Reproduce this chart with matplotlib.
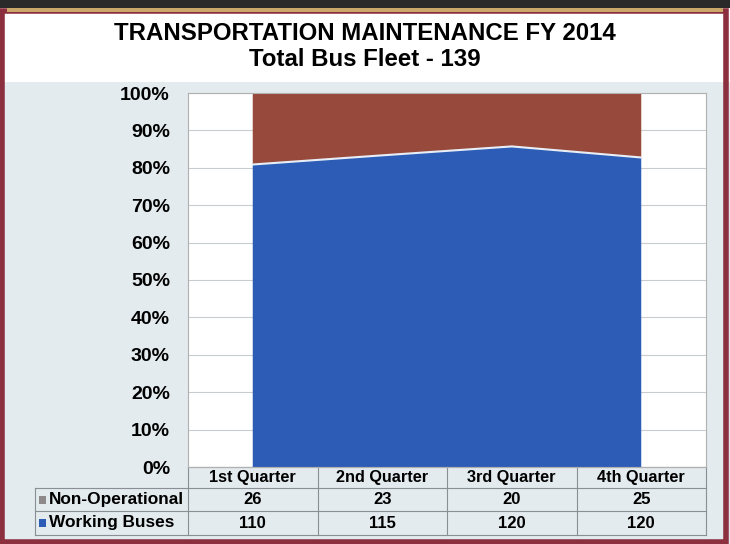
import numpy as np
import matplotlib.pyplot as plt
from matplotlib.patches import Rectangle
from matplotlib.transforms import blended_transform_factory

plt.rcParams['font.family'] = ['Liberation Sans', 'DejaVu Sans']

quarters = ["1st Quarter", "2nd Quarter", "3rd Quarter", "4th Quarter"]
non_operational = [26, 23, 20, 25]
working_buses = [110, 115, 120, 120]
row_names = ["Non-Operational", "Working Buses"]

blue = "#2d5cb6"
rust = "#974a3c"
key_colors = ["#8e8a8c", blue]

# percentages for the 100% stacked area
work = np.array(working_buses, dtype=float)
nonop = np.array(non_operational, dtype=float)
total = work + nonop
work_pct = work / total * 100
nonop_pct = nonop / total * 100

W, H = 730, 544
fig = plt.figure(figsize=(W / 100, H / 100), dpi=100)
fig.patch.set_facecolor("#e3ebee")

# white title band and photo-like frame
fig.add_artist(Rectangle((0, 1 - 82 / H), 1, 82 / H, transform=fig.transFigure,
                         facecolor="white", edgecolor="none", zorder=0))
fig.add_artist(Rectangle((0.003, 0.004), 0.992, 0.975, transform=fig.transFigure,
                         facecolor="none", edgecolor="#8c3040", linewidth=4, zorder=5))
fig.add_artist(Rectangle((0.01, 1 - 12 / H), 0.98, 4 / H, transform=fig.transFigure,
                         facecolor="#c9a86a", edgecolor="none", zorder=6))
fig.add_artist(Rectangle((0, 1 - 8 / H), 1, 8 / H, transform=fig.transFigure,
                         facecolor="#2a2a2a", edgecolor="none", zorder=6))

ax = fig.add_axes([188 / W, 1 - 467 / H, 518 / W, 374 / H])
ax.set_facecolor("white")

x = np.arange(len(quarters))
ax.stackplot(x, work_pct, nonop_pct, colors=[blue, rust], zorder=2)
ax.plot(x, work_pct, color="#e8eef5", linewidth=1.5, zorder=3)

ax.set_xlim(-0.5, len(quarters) - 0.5)
ax.set_ylim(0, 100)
ax.set_yticks(np.arange(0, 101, 10))
ax.set_yticklabels([f"{v}%" for v in range(0, 101, 10)],
                   fontsize=14, fontweight="bold")
ax.set_xticks([])
ax.tick_params(axis="y", length=0, pad=13)
ax.grid(axis="y", color="#c8ccd0", linewidth=0.8, zorder=1)
for s in ax.spines.values():
    s.set_color("#b0b0b0")
    s.set_linewidth(0.8)

fig.text(0.5, 1 - 33 / H, "TRANSPORTATION MAINTENANCE FY 2014",
         ha="center", va="center", fontsize=17.3, fontweight="bold")
fig.text(0.5, 1 - 60 / H, "Total Bus Fleet - 139",
         ha="center", va="center", fontsize=17.3, fontweight="bold")

# data table under the chart (x in data units, y in axes units)
tr = blended_transform_factory(ax.transData, ax.transAxes)
px = 4 / 518  # data units per pixel
left = -0.5 - 153 * px
y_head_top, y_head_bot = 0.0, -21 / 374
y_rows = [y_head_bot, -44 / 374, -68 / 374]
lc = "#8a8f96"
line_kw = dict(transform=tr, clip_on=False, color=lc, linewidth=0.8)

# horizontal lines
ax.plot([-0.5, 3.5], [y_head_top] * 2, **line_kw)
for yv in y_rows:
    ax.plot([left, 3.5], [yv] * 2, **line_kw)
# vertical lines
ax.plot([left, left], [y_rows[0], y_rows[-1]], **line_kw)
for xb in np.arange(len(quarters) + 1) - 0.5:
    ax.plot([xb, xb], [y_head_top, y_rows[-1]], **line_kw)

for i, q in enumerate(quarters):
    ax.text(i, (y_head_top + y_head_bot) / 2, q, transform=tr, ha="center",
            va="center", fontsize=11.7, fontweight="bold", clip_on=False)
for r, (name, vals, kc) in enumerate(zip(row_names, [non_operational, working_buses],
                                         key_colors)):
    ym = (y_rows[r] + y_rows[r + 1]) / 2
    ax.text(left + 14 * px, ym, name, transform=tr, ha="left", va="center",
            fontsize=12.4, fontweight="bold", clip_on=False)
    ax.add_patch(Rectangle((left + 4 * px, ym - 4 / 374), 7 * px, 8 / 374,
                           transform=tr, facecolor=kc, edgecolor="none",
                           clip_on=False))
    for i, v in enumerate(vals):
        ax.text(i, ym, str(v), transform=tr, ha="center", va="center",
                fontsize=12, fontweight="bold", clip_on=False)

fig.savefig("out.png", dpi=100, facecolor=fig.get_facecolor())
